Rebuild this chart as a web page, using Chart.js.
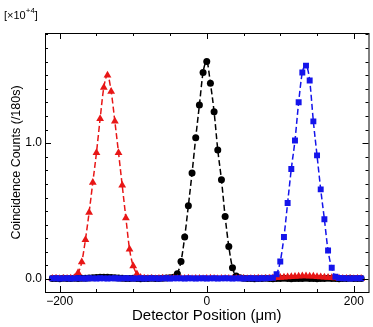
<!DOCTYPE html>
<html lang="en">
<head>
    <meta charset="UTF-8">
    <title>Coincidence counts vs detector position</title>
    <script src="https://cdn.jsdelivr.net/npm/chart.js"></script>
    <style>
        html, body { margin: 0; padding: 0; background: #fff; }
        #wrap { width: 373px; height: 327px; }
    </style>
</head>
<body>
    <div id="wrap"><canvas id="grafica"></canvas></div>

    <script>
        // detector positions (um), scan step 5 um
        const positions = [-210,-205,-200,-195,-190,-185,-180,-175,-170,-165,-160,-155,-150,-145,-140,-135,-130,-125,-120,-115,-110,-105,-100,-95,-90,-85,-80,-75,-70,-65,-60,-55,-50,-45,-40,-35,-30,-25,-20,-15,-10,-5,0,5,10,15,20,25,30,35,40,45,50,55,60,65,70,75,80,85,90,95,100,105,110,115,120,125,130,135,140,145,150,155,160,165,170,175,180,185,190,195,200,205,210];

        // counts in units of 10^4
        const redCounts = [
            0.004,0.006,0.003,0.005,0.004,0.007,0.009,
            0.046,0.125,0.29,0.49,0.71,0.93,1.18,1.41,1.50,1.38,1.16,0.93,0.69,0.45,0.22,0.096,0.037,
            0.012,0.006,0.004,0.005,0.003,0.004,0.006,0.003,0.005,0.004,
            0.003,0.005,0.004,0.006,0.003,0.004,0.005,0.003,0.004,0.006,
            0.005,0.003,0.004,0.005,0.004,0.003,0.005,0.006,0.004,0.003,
            0.005,0.004,0.006,0.005,0.004,0.006,0.008,0.010,
            0.012,0.014,0.016,0.018,0.019,0.021,0.022,0.022,0.021,0.020,0.018,0.016,0.014,0.012,0.010,
            0.008,0.006,0.005,0.004,0.005,0.003,0.004,0.005
        ];
        const blackCounts = [
            0.004,0.005,0.003,0.006,0.004,0.005,0.006,0.005,0.007,0.006,0.008,0.009,
            0.011,0.013,0.014,0.013,0.012,0.010,
            0.008,0.006,0.005,0.004,0.006,0.005,0.003,0.004,0.005,0.006,0.004,0.005,0.006,0.008,0.010,0.014,
            0.04,0.13,0.31,0.54,0.78,1.04,1.28,1.52,1.60,1.44,1.23,0.95,0.73,0.46,0.24,0.083,0.022,
            0.010,0.006,0.004,0.005,0.003,0.004,0.005,0.006,0.004,0.003,
            0.005,0.004,0.006,0.005,0.003,0.004,0.005,0.004,0.006,0.005,
            0.004,0.003,0.005,0.004,0.006,0.005,0.004,0.003,0.005,0.004,
            0.006,0.005,0.004,0.005
        ];
        const blueCounts = [
            0.005,0.006,0.004,0.005,0.006,0.004,0.005,0.006,0.005,0.004,
            0.006,0.005,0.004,0.006,0.005,0.004,0.005,0.006,0.004,0.005,
            0.006,0.005,0.004,0.005,0.006,0.004,0.005,0.006,0.005,0.004,
            0.005,0.006,0.004,0.005,0.006,0.005,0.004,0.006,0.005,0.004,
            0.005,0.006,0.004,0.005,0.006,0.004,0.005,0.006,0.005,0.004,
            0.005,0.006,0.004,0.005,0.006,0.005,0.004,0.006,0.005,0.007,0.010,
            0.035,0.13,0.31,0.56,0.81,1.02,1.30,1.52,1.57,1.46,1.16,0.91,0.66,0.44,0.21,0.083,0.017,
            0.008,0.006,0.005,0.004,0.005,0.006,0.005
        ];

        const xTicks = [-200, 0, 200];
        const yTicks = [0, 1];

        const FONT = 'Liberation Sans, Arial, sans-serif';

        function puntos(vals) {
            return positions.map((x, i) => ({ x: x, y: vals[i] }));
        }

        function serie(vals, color, estilo, radio) {
            return {
                data: puntos(vals),
                showLine: true,
                borderColor: color,
                backgroundColor: color,
                borderWidth: 1.5,
                borderDash: [6, 3],
                cubicInterpolationMode: 'monotone',
                pointStyle: estilo,
                pointRadius: radio,
                pointHoverRadius: radio,
                pointBorderWidth: 0
            };
        }

        // box, inward ticks and the exponent label
        const marco = {
            id: 'marco',
            afterDraw(chart) {
                const { ctx, chartArea: a, scales: { x, y } } = chart;
                ctx.save();
                ctx.strokeStyle = '#000';
                ctx.lineWidth = 1;
                ctx.strokeRect(a.left + 0.5, a.top + 0.5, a.right - a.left, a.bottom - a.top);

                ctx.beginPath();
                for (let k = Math.ceil(x.min / 50); k <= Math.floor(x.max / 50); k++) {
                    const v = k * 50;
                    const len = (v % 200 === 0) ? 6 : 3;
                    const px = Math.round(x.getPixelForValue(v)) + 0.5;
                    ctx.moveTo(px, a.bottom); ctx.lineTo(px, a.bottom - len);
                    ctx.moveTo(px, a.top); ctx.lineTo(px, a.top + len);
                }
                for (let k = Math.ceil(y.min * 10); k <= Math.floor(y.max * 10); k++) {
                    const len = (k % 10 === 0) ? 6 : 3;
                    const py = Math.round(y.getPixelForValue(k / 10)) + 0.5;
                    ctx.moveTo(a.left, py); ctx.lineTo(a.left + len, py);
                    ctx.moveTo(a.right, py); ctx.lineTo(a.right - len, py);
                }
                ctx.stroke();

                ctx.fillStyle = '#000';
                ctx.textBaseline = 'alphabetic';
                ctx.font = '11px ' + FONT;
                let tx = 4;
                ctx.fillText('[\u00d710', tx, 19);
                tx += ctx.measureText('[\u00d710').width;
                ctx.font = '8px ' + FONT;
                ctx.fillText('+4', tx, 13);
                tx += ctx.measureText('+4').width;
                ctx.font = '11px ' + FONT;
                ctx.fillText(']', tx, 19);
                ctx.restore();
            }
        };

        const ctx = document.getElementById('grafica').getContext('2d');
        new Chart(ctx, {
            type: 'scatter',
            data: {
                datasets: [
                    serie(blueCounts, 'rgb(20,20,235)', 'rect', 4.2),
                    serie(redCounts, 'rgb(232,22,22)', 'triangle', 4.5),
                    serie(blackCounts, '#000', 'circle', 3.5)
                ]
            },
            options: {
                responsive: true,
                maintainAspectRatio: false,
                animation: false,
                layout: { padding: { top: 33, right: 4, left: 0, bottom: 0 } },
                plugins: {
                    legend: { display: false },
                    tooltip: { enabled: false }
                },
                scales: {
                    x: {
                        type: 'linear',
                        min: -220,
                        max: 220,
                        afterFit: s => { s.height = 35; },
                        afterBuildTicks: s => { s.ticks = xTicks.map(v => ({ value: v })); },
                        grid: { display: false, drawTicks: false, tickLength: 0 },
                        border: { display: false },
                        ticks: {
                            padding: 2,
                            color: '#000',
                            font: { family: FONT, size: 12 },
                            callback: v => (v < 0 ? '\u2212' + Math.abs(v) : String(v))
                        },
                        title: {
                            display: true,
                            text: 'Detector Position (\u03bcm)',
                            color: '#000',
                            font: { family: FONT, size: 15 },
                            padding: { top: 2, bottom: 2 }
                        }
                    },
                    y: {
                        type: 'linear',
                        min: -0.095,
                        max: 1.81,
                        afterFit: s => { s.width = 45; },
                        afterBuildTicks: s => { s.ticks = yTicks.map(v => ({ value: v })); },
                        grid: { display: false, drawTicks: false, tickLength: 0 },
                        border: { display: false },
                        ticks: {
                            padding: 3,
                            color: '#000',
                            font: { family: FONT, size: 12 },
                            callback: v => Number(v).toFixed(1)
                        },
                        title: {
                            display: true,
                            text: 'Coincidence Counts (/180s)',
                            color: '#000',
                            font: { family: FONT, size: 12.5 },
                            padding: { top: 9, bottom: 9 }
                        }
                    }
                }
            },
            plugins: [marco]
        });
    </script>
</body>
</html>
